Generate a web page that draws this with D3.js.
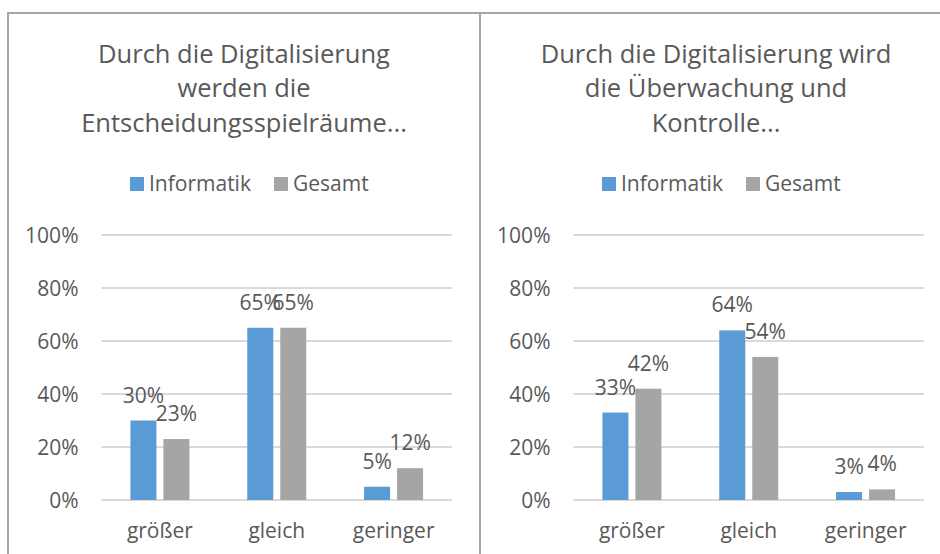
<!DOCTYPE html>
<html>
<head>
<meta charset="utf-8">
<script src="https://cdn.jsdelivr.net/npm/d3@7"></script>
<style>
  html, body { margin: 0; padding: 0; background: #fff; }
  svg { display: block; font-family: "Open Sans", "DejaVu Sans", sans-serif; }
</style>
</head>
<body>
<svg id="chart" width="940" height="554"></svg>
<script>
const categories = ["größer", "gleich", "geringer"];
const seriesNames = ["Informatik", "Gesamt"];
const seriesColors = ["#5B9BD5", "#A5A5A5"];
const chart1Title = ["Durch die Digitalisierung", "werden die", "Entscheidungsspielräume..."];
const chart1Informatik = [30, 65, 5];
const chart1Gesamt = [23, 65, 12];
const chart2Title = ["Durch die Digitalisierung wird", "die Überwachung und", "Kontrolle..."];
const chart2Informatik = [33, 64, 3];
const chart2Gesamt = [42, 54, 4];
const yTicks = [0, 20, 40, 60, 80, 100];

const panels = [
  { title: chart1Title, data: [chart1Informatik, chart1Gesamt], boxX: 8, boxW: 472 },
  { title: chart2Title, data: [chart2Informatik, chart2Gesamt], boxX: 480, boxW: 472 }
];

const svg = d3.select("#chart");
const textColor = "#595959";
const gridColor = "#D9D9D9";
const borderColor = "#A6A6A6";
const smallFont = 21;

const plotTop = 235, plotBottom = 500;

panels.forEach((p) => {
  const g = svg.append("g");
  g.append("rect")
    .attr("x", p.boxX).attr("y", 13)
    .attr("width", p.boxW).attr("height", 600)
    .attr("fill", "none").attr("stroke", borderColor).attr("stroke-width", 2);

  const cx = p.boxX + p.boxW / 2;
  const title = g.append("text")
    .attr("text-anchor", "middle")
    .attr("fill", textColor)
    .attr("font-size", 25.5);
  p.title.forEach((line, i) => {
    title.append("tspan").attr("x", cx).attr("y", 63 + i * 34.3).text(line);
  });

  const legend = g.append("g").attr("transform", `translate(${p.boxX + 122},0)`);
  seriesNames.forEach((name, i) => {
    const lg = legend.append("g").attr("transform", `translate(${i * 144},0)`);
    lg.append("rect").attr("x", 0).attr("y", 177).attr("width", 14).attr("height", 14)
      .attr("fill", seriesColors[i]);
    lg.append("text").attr("x", 19).attr("y", 191).attr("font-size", smallFont)
      .attr("fill", textColor).text(name);
  });

  const plotLeft = p.boxX + 93.5;
  const plotRight = plotLeft + 350.5;

  const y = d3.scaleLinear().domain([0, 100]).range([plotBottom, plotTop]);
  const x0 = d3.scaleBand().domain(categories).range([plotLeft, plotRight]).padding(0);
  const bw = x0.bandwidth();
  const groupW = 59;
  const x1 = d3.scaleBand().domain(seriesNames)
    .range([(bw - groupW) / 2, (bw + groupW) / 2])
    .paddingInner(7 / 33).paddingOuter(0);

  g.append("g").selectAll("line").data(yTicks).join("line")
    .attr("x1", plotLeft).attr("x2", plotRight)
    .attr("y1", d => y(d)).attr("y2", d => y(d))
    .attr("stroke", gridColor).attr("stroke-width", 2);

  const yAxis = d3.axisLeft(y).tickValues(yTicks).tickFormat(d => d + "%").tickSize(0).tickPadding(0);
  const ya = g.append("g").attr("transform", `translate(${plotLeft - 23},0)`).call(yAxis);
  ya.select(".domain").remove();
  ya.selectAll("text").attr("fill", textColor).attr("font-size", smallFont)
    .attr("font-family", "\"Open Sans\", sans-serif").attr("dy", "0.36em");

  const xAxis = d3.axisBottom(x0).tickSize(0).tickPadding(0);
  const xa = g.append("g").attr("transform", `translate(0,${plotBottom + 38})`).call(xAxis);
  xa.select(".domain").remove();
  xa.selectAll("text").attr("fill", textColor).attr("font-size", smallFont)
    .attr("font-family", "\"Open Sans\", sans-serif").attr("dy", 0);

  const rows = categories.map((c, ci) => ({
    cat: c,
    vals: seriesNames.map((s, si) => ({ series: s, si, value: p.data[si][ci] }))
  }));
  const groups = g.append("g").selectAll("g").data(rows).join("g")
    .attr("transform", d => `translate(${x0(d.cat)},0)`);
  groups.selectAll("rect").data(d => d.vals).join("rect")
    .attr("x", d => x1(d.series))
    .attr("width", x1.bandwidth())
    .attr("y", d => y(d.value))
    .attr("height", d => y(0) - y(d.value))
    .attr("fill", d => seriesColors[d.si]);
  groups.selectAll("text").data(d => d.vals).join("text")
    .attr("x", d => x1(d.series) + x1.bandwidth() / 2)
    .attr("y", d => y(d.value) - 18)
    .attr("text-anchor", "middle")
    .attr("font-size", smallFont)
    .attr("fill", textColor)
    .text(d => d.value + "%");
});
</script>
</body>
</html>
